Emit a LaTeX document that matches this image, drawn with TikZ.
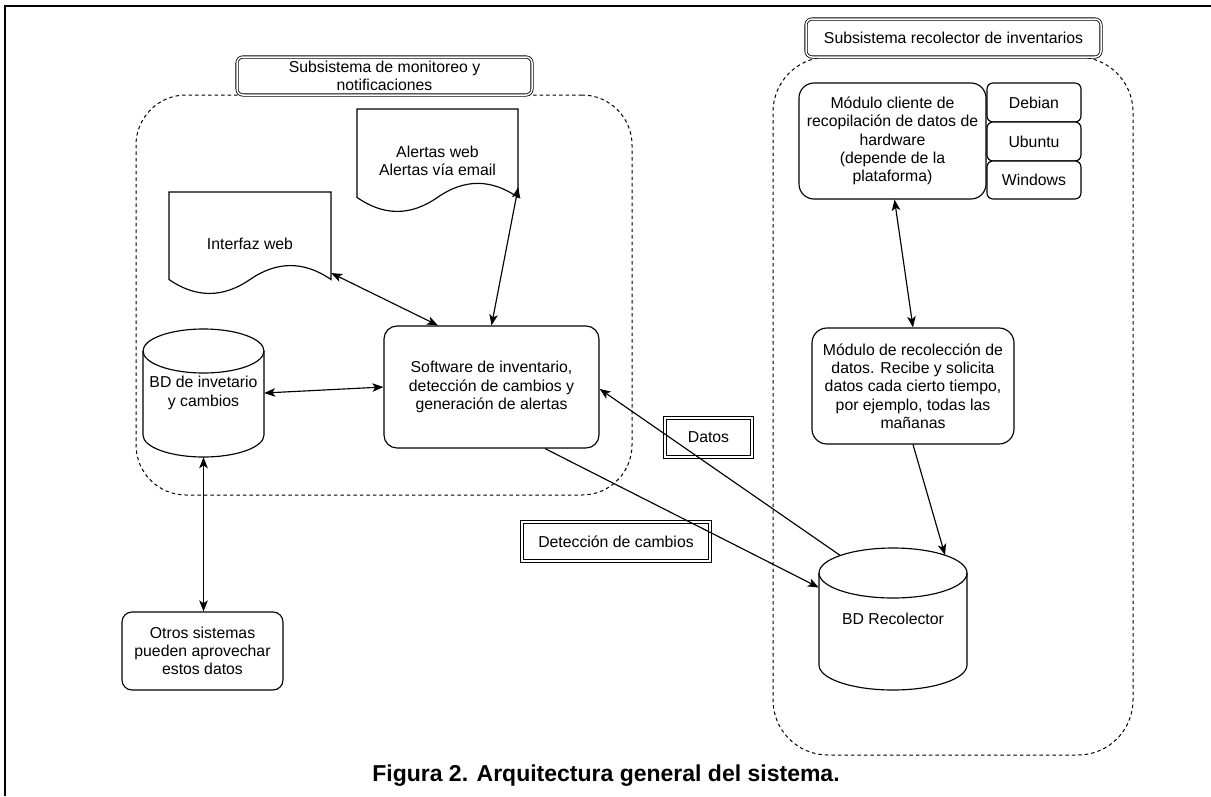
\documentclass[tikz,border=0pt]{standalone}
\usepackage{fontspec}
\setmainfont{Liberation Sans}
\usetikzlibrary{arrows.meta,calc}
\begin{document}
\begin{tikzpicture}[x=1pt,y=-1pt,
  every node/.style={font=\fontsize{15.8}{18.3}\selectfont, align=center, inner sep=0pt},
  ln/.style={line width=1.15pt},
  cont/.style={draw, line width=1pt, dash pattern=on 3.5pt off 3pt},
  rbox/.style={draw, ln, fill=white, rounded corners=13pt},
  osbox/.style={draw, ln, fill=white, rounded corners=6pt},
  lblbox/.style={draw, line width=0.8pt, double, double distance=1.5pt, fill=white, rounded corners=6pt},
  tagbox/.style={draw, line width=0.8pt, double, double distance=1.5pt},
  ghost/.style={draw=none},
  tip/.tip={Stealth[length=11pt,width=8.5pt,inset=2.8pt]},
  arr/.style={ln, -tip},
  darr/.style={ln, tip-tip}
]
\useasboundingbox (0,0) rectangle (1211,796);
% frame
\draw[line width=2pt] (5,796) -- (5,5.7) -- (1211,5.7);

% containers
\node[cont, rounded corners=50pt, minimum width=496, minimum height=400] (c1) at (384,295) {};
\node[cont, rounded corners=55pt, minimum width=360, minimum height=698] (c2) at (953,406) {};

% container labels
\node[lblbox, minimum width=295, minimum height=38] (l1) at (384.5,76) {Subsistema de monitoreo y\\notificaciones};
\node[lblbox, minimum width=295, minimum height=38] (l2) at (953.5,38) {Subsistema recolector de inventarios};

% document shapes
\draw[ln, fill=white] (357,109) -- (518,109) -- (518,197.4)
  .. controls (491.2,178.7) and (464.3,178.7) .. (437.5,197.4)
  .. controls (410.7,216.1) and (383.8,216.1) .. (357,197.4) -- cycle;
\draw[ln, fill=white] (169,192) -- (331,192) -- (331,279.5)
  .. controls (304,260.9) and (277,260.9) .. (250,279.5)
  .. controls (223,298.1) and (196,298.1) .. (169,279.5) -- cycle;

% cylinders
\draw[ln, fill=white] (143,351) -- (143,435)
  arc[start angle=180, end angle=0, x radius=60.5, y radius=22] -- (264,351)
  arc[start angle=0, end angle=-180, x radius=60.5, y radius=22] -- cycle;
\draw[ln] (143,351) arc[start angle=180, end angle=0, x radius=60.5, y radius=22];
\draw[ln, fill=white] (819,573) -- (819,665)
  arc[start angle=180, end angle=0, x radius=74, y radius=25] -- (967,573)
  arc[start angle=0, end angle=-180, x radius=74, y radius=25] -- cycle;
\draw[ln] (819,573) arc[start angle=180, end angle=0, x radius=74, y radius=25];

% nodes
\node[ghost, minimum width=161, minimum height=104] (al) at (437.5,161) {Alertas web\\Alertas vía email};
\node[ghost, minimum width=162, minimum height=103] (iw) at (250,243.5) {Interfaz web};
\node[ghost, minimum width=121, minimum height=128] (bd) at (203.5,393) {BD de invetario\\y cambios};
\node[ghost, minimum width=148, minimum height=142] (rec) at (893,619) {BD Recolector};
\node[rbox, minimum width=215, minimum height=122] (sw) at (491.5,387) {Software de inventario,\\detección de cambios y\\generación de alertas};
\node[rbox, rounded corners=10pt, minimum width=161, minimum height=78] (ot) at (202.5,651) {Otros sistemas\\pueden aprovechar\\estos datos};
\node[rbox, rounded corners=15pt, minimum width=187, minimum height=116] (mc) at (892.5,141) {Módulo cliente de\\recopilación de datos de\\hardware\\(depende de la\\plataforma)};
\node[osbox, minimum width=94, minimum height=39] (deb) at (1034,102.5) {Debian};
\node[osbox, minimum width=94, minimum height=39] (ubu) at (1034,141.5) {Ubuntu};
\node[osbox, minimum width=94, minimum height=38] (win) at (1034,180) {Windows};
\node[rbox, rounded corners=15pt, minimum width=202, minimum height=116] (mr) at (913,386) {Módulo de recolección de\\datos. Recibe y solicita\\datos cada cierto tiempo,\\por ejemplo, todas las\\mañanas};

% tags
\node[tagbox, minimum width=87, minimum height=39] (tdat) at (708.5,437.5) {Datos};
\node[tagbox, minimum width=188, minimum height=39] (tdet) at (616,541.5) {Detección de cambios};

% connectors
\draw[darr] (iw.-20) -- (sw.131);
\draw[darr] (al.-18) -- (sw.north);
\draw[darr] (bd.east) -- (sw.west);
\draw[darr] (bd.south) -- (bd.south |- ot.north);
\draw[arr] (sw.-49) -- (rec.157);
\draw[arr] ($(rec.north)+(-53,7.5)$) -- (sw.-1.5);
\draw[darr] ($(mc.south)+(2,0)$) -- (mr.north);
\draw[arr] (mr.south) -- ($(rec.north)+(52,7.2)$);

% caption
\node[font=\bfseries\fontsize{23}{27}\selectfont, anchor=base] (cap) at (606,781) {Figura 2. Arquitectura general del sistema.};
\end{tikzpicture}
\end{document}
